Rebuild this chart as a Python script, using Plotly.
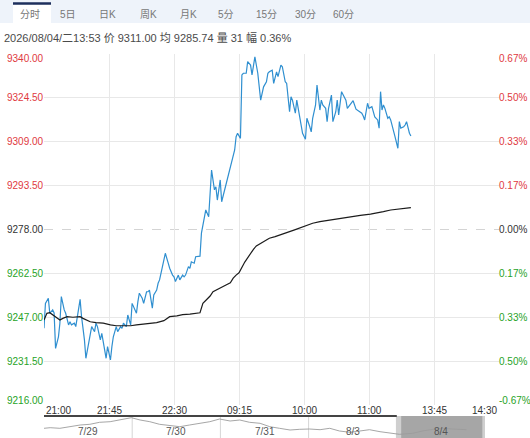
import plotly.graph_objects as go

W, H = 530, 438
FONT = "Liberation Sans, Noto Sans CJK SC, sans-serif"
RED = "#e0393e"
GREEN = "#27a327"
BLUE = "#2f8fd0"

# ---- data -------------------------------------------------------------
prev_close = 9278.0

# minute offset from 21:00 (night session start), last price
minutes = [
    0, 1, 3, 4, 6, 7, 8, 10, 11, 12, 14, 15, 17, 18, 19, 21, 22, 24, 25, 26,
    28, 29, 30, 32, 33, 35, 36, 37, 39, 40, 42, 43, 44, 46, 47, 48, 50, 51, 53, 54,
    55, 57, 58, 60, 61, 62, 64, 65, 66, 68, 69, 71, 72, 73, 75, 76, 78, 79, 80, 82,
    83, 84, 86, 87, 89, 90, 91, 93, 94, 96, 97, 98, 100, 101, 102, 104, 105, 107, 108, 109,
    111, 112, 114, 115, 116, 118, 119, 120, 122, 123, 125, 126, 127, 129, 130, 132, 133, 134, 136, 137,
    138, 140, 141, 143, 144, 146, 148, 150, 152, 154, 155, 156, 158, 159, 161, 162, 164, 165, 167, 168,
    170, 171, 172, 174, 175, 177, 179, 181, 182, 184, 185, 186, 188, 189, 191, 192, 193, 195, 196, 197,
    199, 200, 202, 203, 204, 206, 207, 209, 210, 211, 213, 214, 216, 217, 218, 220, 221, 222, 224, 225,
    227, 228, 229, 231, 232, 233, 234, 235, 236, 238, 239, 240, 242, 243, 245, 246, 247, 249, 250, 251,
    253, 254,
]
prices = [
    9243.1, 9251.9, 9253.7, 9248.4, 9249.6, 9248.5, 9236.0, 9240.1, 9244.9, 9254.3,
    9249.6, 9248.4, 9244.3, 9245.4, 9244.3, 9244.9, 9243.7, 9249.6, 9253.3, 9247.2,
    9239.0, 9232.5, 9235.4, 9240.1, 9243.7, 9241.9, 9244.9, 9243.7, 9239.0, 9241.3,
    9235.4, 9232.5, 9236.6, 9231.9, 9236.6, 9240.1, 9243.7, 9241.9, 9243.7, 9243.1,
    9244.9, 9243.7, 9247.8, 9244.3, 9251.9, 9250.7, 9248.4, 9252.5, 9255.5, 9253.7,
    9251.9, 9256.0, 9256.0, 9256.6, 9250.2, 9254.9, 9256.6, 9259.0, 9260.2, 9264.9,
    9267.2, 9269.6, 9266.1, 9264.3, 9261.9, 9261.3, 9259.6, 9261.9, 9260.2, 9261.9,
    9261.3, 9261.9, 9264.9, 9264.3, 9266.6, 9266.1, 9268.4, 9268.6, 9268.6, 9276.7,
    9282.5, 9284.9, 9282.5, 9293.1, 9299.0, 9292.0, 9293.1, 9288.4, 9295.5, 9287.8,
    9292.0, 9293.1, 9295.5, 9300.2, 9301.4, 9306.1, 9310.8, 9312.0, 9310.2, 9332.6,
    9333.2, 9333.2, 9337.3, 9336.1, 9332.6, 9339.0, 9333.2, 9323.7, 9328.4, 9330.2,
    9333.2, 9333.7, 9334.3, 9329.6, 9333.7, 9332.0, 9336.1, 9335.5, 9330.2, 9329.6,
    9319.6, 9324.9, 9323.7, 9319.1, 9323.7, 9317.8, 9312.0, 9309.9, 9317.3, 9314.3,
    9312.5, 9317.3, 9322.0, 9329.0, 9320.2, 9323.7, 9322.0, 9320.8, 9316.1, 9320.8,
    9325.5, 9316.1, 9319.6, 9323.7, 9318.5, 9326.7, 9325.5, 9323.7, 9320.8, 9321.4,
    9322.6, 9323.5, 9320.5, 9320.2, 9319.6, 9319.1, 9318.1, 9316.7, 9322.6, 9320.8,
    9321.4, 9319.1, 9317.8, 9316.7, 9313.8, 9326.7, 9320.2, 9322.0, 9320.8, 9317.3,
    9317.8, 9316.7, 9313.2, 9310.8, 9306.7, 9316.1, 9313.8, 9314.3, 9314.9, 9316.1,
    9312.0, 9311.0,
]

# average price line
avg_minutes = [
    0, 2, 4, 6, 9, 11, 13, 16, 20, 25, 27, 30, 32, 36, 41, 46, 50, 55, 60, 64,
    69, 73, 78, 83, 87, 92, 96, 101, 106, 108, 110, 113, 115, 117, 120, 123, 126, 129, 131, 133,
    135, 139, 142, 145, 147, 150, 153, 156, 160, 163, 168, 173, 177, 182, 186, 191, 198, 205, 212, 219,
    226, 230, 235, 240, 246, 254,
]
avg_prices = [
    9246.0, 9248.4, 9248.6, 9247.8, 9246.6, 9246.0, 9246.6, 9247.2, 9247.0, 9247.2,
    9246.6, 9245.8, 9245.4, 9245.1, 9244.9, 9244.3, 9244.0, 9244.0, 9244.0, 9244.3,
    9244.6, 9244.9, 9245.1, 9245.8, 9247.2, 9247.5, 9247.9, 9248.1, 9248.4, 9248.6,
    9251.9, 9253.3, 9254.5, 9256.0, 9256.9, 9257.6, 9258.4, 9259.2, 9260.8, 9261.9,
    9262.7, 9266.5, 9269.0, 9271.0, 9272.2, 9273.1, 9274.3, 9274.9, 9275.5, 9276.1,
    9276.9, 9277.8, 9278.6, 9279.6, 9280.2, 9280.8, 9281.4, 9282.0, 9282.5, 9283.0,
    9283.4, 9283.7, 9284.3, 9284.9, 9285.2, 9285.74,
]

time_ticks = [0, 45, 90, 135, 180, 225, 270, 315]
time_labels = ["21:00", "21:45", "22:30", "09:15", "10:00", "11:00", "13:45", "14:30"]

price_ticks = [9340.0, 9324.5, 9309.0, 9293.5, 9278.0, 9262.5, 9247.0, 9231.5, 9216.0]
pct_labels = ["0.67%", "0.50%", "0.33%", "0.17%", "0.00%", "0.17%", "0.33%", "0.50%", "-0.67%"]

# five-day navigator thumbnail
nav_days = [
    0.0, 0.07, 0.18, 0.29, 0.41, 0.52, 0.63, 0.75, 0.86, 0.99, 1.09, 1.2, 1.31, 1.43, 1.54,
    1.65, 1.77, 1.88, 1.99, 2.11, 2.22, 2.33, 2.45, 2.56, 2.67, 2.79, 2.9, 3.01, 3.13, 3.24,
    3.35, 3.47, 3.58, 3.69, 3.81, 3.92, 4.03, 4.18, 4.29, 4.41, 4.52, 4.63, 4.79,
]
nav_values = [
    9247, 9253, 9247, 9263, 9280, 9287, 9307, 9313, 9330, 9353, 9330, 9313, 9287, 9273, 9263,
    9280, 9297, 9313, 9340, 9320, 9330, 9307, 9297, 9263, 9247, 9230, 9237, 9240, 9233, 9247,
    9220, 9207, 9220, 9233, 9213, 9197, 9187, 9197, 9220, 9237, 9247, 9240, 9233,
]
nav_labels = ["7/29", "7/30", "7/31", "8/3", "8/4"]
nav_selected = 4

tabs = ["分时", "5日", "日K", "周K", "月K", "5分", "15分", "30分", "60分"]
info_text = "2026/08/04/二13:53 价 9311.00 均 9285.74 量 31 幅 0.36%"


def px(x):
    return x / W


def py(y):
    return 1 - y / H


fig = go.Figure()

# price line
fig.add_trace(
    go.Scatter(x=minutes, y=prices, mode="lines",
               line=dict(color=BLUE, width=1.2), hoverinfo="skip")
)
# average line
fig.add_trace(
    go.Scatter(x=avg_minutes, y=avg_prices, mode="lines",
               line=dict(color="#1c1c1c", width=1.2), hoverinfo="skip")
)
# navigator line
fig.add_trace(
    go.Scatter(x=nav_days, y=nav_values, mode="lines", xaxis="x2", yaxis="y2",
               line=dict(color="#9c9c9c", width=0.9), hoverinfo="skip")
)

shapes = []
annotations = []

# tab bar
shapes.append(dict(type="rect", xref="paper", yref="paper", x0=0, x1=1, y0=py(23), y1=1,
                   fillcolor="#eef3fa", line=dict(width=0), layer="below"))
shapes.append(dict(type="rect", xref="paper", yref="paper", x0=px(13), x1=px(51), y0=py(24), y1=py(3),
                   fillcolor="white", line=dict(width=0), layer="below"))
shapes.append(dict(type="line", xref="paper", yref="paper", x0=px(13), x1=px(51), y0=py(3.5), y1=py(3.5),
                   line=dict(color="#1d2f5c", width=2.5)))
tab_x = [29.5, 68, 107.5, 148, 188, 226, 266, 305, 343]
for t, cx in zip(tabs, tab_x):
    annotations.append(dict(text=t, xref="paper", yref="paper", x=px(cx), y=py(14),
                            xanchor="center", yanchor="middle", showarrow=False,
                            font=dict(family=FONT, size=10, color="#777777")))

annotations.append(dict(text=info_text, xref="paper", yref="paper", x=px(2), y=py(38),
                        xanchor="left", yanchor="middle", showarrow=False,
                        font=dict(family=FONT, size=11, color="#4a4a4a")))

# previous close dashed line
shapes.append(dict(type="line", xref="x", yref="y", x0=time_ticks[0], x1=time_ticks[-1],
                   y0=prev_close, y1=prev_close,
                   line=dict(color="#d4d4d4", width=1, dash="dash"), layer="below"))

# price axis labels
n = len(price_ticks)
for i, (v, pct) in enumerate(zip(price_ticks, pct_labels)):
    if v > prev_close:
        col = RED
    elif v < prev_close:
        col = GREEN
    else:
        col = "#333333"
    shift = -4 if i == 0 else (5 if i == n - 1 else 0)
    annotations.append(dict(text=f"{v:.2f}", xref="paper", yref="y", x=px(5), y=v, yshift=shift,
                            xanchor="left", yanchor="middle", showarrow=False,
                            font=dict(family=FONT, size=10, color=col)))
    annotations.append(dict(text=pct, xref="paper", yref="y", x=px(497), y=v, yshift=shift,
                            xanchor="left", yanchor="middle", showarrow=False,
                            font=dict(family=FONT, size=10, color=col)))

# time axis labels
for i, (t, lab) in enumerate(zip(time_ticks, time_labels)):
    anchor = "left" if i == 0 else ("right" if i == len(time_ticks) - 1 else "center")
    annotations.append(dict(text=lab, xref="x", yref="paper", x=t, y=py(410.5),
                            xanchor=anchor, yanchor="middle", showarrow=False,
                            font=dict(family=FONT, size=10, color="#333333")))

# navigator
shapes.append(dict(type="rect", xref="x2", yref="paper", x0=nav_selected - 0.01, x1=nav_selected + 1.03,
                   y0=0, y1=py(416), fillcolor="#cfcfcf", line=dict(width=0), layer="below"))
shapes.append(dict(type="rect", xref="x2", yref="paper", x0=nav_selected + 0.05, x1=nav_selected + 0.97,
                   y0=0, y1=py(416), fillcolor="#a6a6a6", line=dict(width=0), layer="below"))
shapes.append(dict(type="line", xref="x2", yref="paper", x0=0, x1=nav_selected,
                   y0=py(416), y1=py(416), line=dict(color="#444444", width=2)))
for d in range(1, nav_selected):
    shapes.append(dict(type="line", xref="x2", yref="paper", x0=d, x1=d, y0=0, y1=py(417),
                       line=dict(color="#d6d6d6", width=1), layer="below"))
for d, lab in enumerate(nav_labels):
    annotations.append(dict(text=lab, xref="x2", yref="paper", x=d + 0.5, y=py(431),
                            xanchor="center", yanchor="middle", showarrow=False,
                            font=dict(family=FONT, size=10, color="#555555")))

fig.update_layout(
    width=W,
    height=H,
    margin=dict(l=0, r=0, t=0, b=0),
    paper_bgcolor="white",
    plot_bgcolor="white",
    showlegend=False,
    xaxis=dict(domain=[px(44), px(499)], range=[time_ticks[0], time_ticks[-1]],
               tickvals=time_ticks[1:-1], showticklabels=False, ticks="",
               showgrid=True, gridcolor="#e8e8e8", gridwidth=1, zeroline=False, showline=False,
               anchor="y"),
    yaxis=dict(domain=[py(405), py(54)], range=[price_ticks[-1], price_ticks[0]],
               tickvals=[v for v in price_ticks if v != prev_close], showticklabels=False, ticks="",
               showgrid=True, gridcolor="#e8e8e8", gridwidth=1, zeroline=False, showline=False,
               anchor="x"),
    xaxis2=dict(domain=[px(44), px(485)], range=[0, len(nav_labels)], visible=False, anchor="y2"),
    yaxis2=dict(domain=[0, py(416)], range=[9150, 9370], visible=False, anchor="x2"),
    shapes=shapes,
    annotations=annotations,
)

# page body has a default 8px margin; drop it so the 530x438 figure fills the window
fig.write_html("out.html", config={"displayModeBar": False},
               post_script="document.body.style.margin='0';")
